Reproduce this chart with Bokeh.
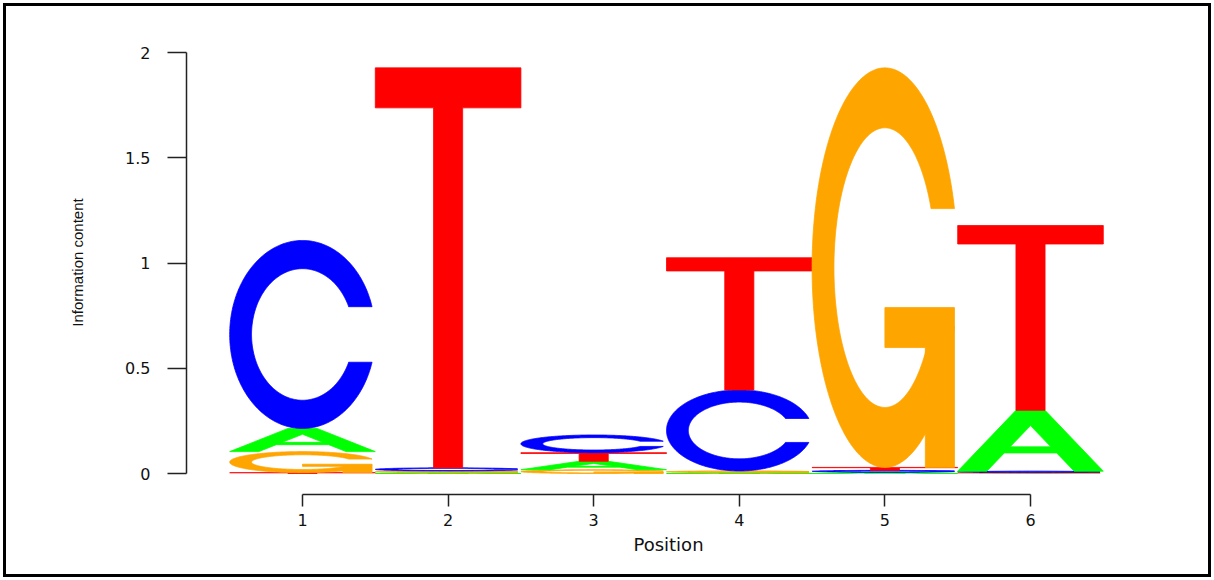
import numpy as np
from bokeh.plotting import figure
from bokeh.models import Range1d, FixedTicker, ColumnDataSource
from bokeh.embed import file_html
from bokeh.resources import INLINE

# ---- data (information content per letter, per position) ----
positions = [1, 2, 3, 4, 5, 6]
letters = ["A", "C", "G", "T"]
height_A = [0.110, 0.004, 0.040, 0.004, 0.006, 0.289]
height_C = [0.893, 0.015, 0.084, 0.385, 0.009, 0.007]
height_G = [0.100, 0.008, 0.018, 0.008, 1.898, 0.004]
height_T = [0.004, 1.900, 0.041, 0.628, 0.014, 0.878]
letter_colors = {"A": "#00FF00", "C": "#0000FF", "G": "#FFA500", "T": "#FF0000"}
y_ticks = [0, 0.5, 1, 1.5, 2]
y_tick_labels = ["0", "0.5", "1", "1.5", "2"]
x_ticks = positions
x_tick_labels = [str(v) for v in positions]

heights = {"A": height_A, "C": height_C, "G": height_G, "T": height_T}


# ---- letter outlines in a unit box (seqLogo style) ----
def _c_ring():
    a1 = np.linspace(0.3 + np.pi / 2, np.pi, 100)
    a2 = np.linspace(np.pi, 1.5 * np.pi, 100)
    xl1, yl1 = 0.5 + 0.5 * np.sin(a1), 0.5 + 0.5 * np.cos(a1)
    xl2, yl2 = 0.5 + 0.5 * np.sin(a2), 0.5 + 0.5 * np.cos(a2)
    xl, yl = np.concatenate([xl1, xl2]), np.concatenate([yl1, yl2])
    xo = np.concatenate([xl, xl[::-1]])
    yo = np.concatenate([yl, 1 - yl[::-1]])
    xi1, yi1 = 0.5 + 0.35 * np.sin(a1), 0.5 + 0.35 * np.cos(a1)
    m = yi1 <= yl1.max()
    xi1, yi1 = xi1[m], yi1[m].copy()
    yi1[0] = yl1.max()
    xi2, yi2 = 0.5 + 0.35 * np.sin(a2), 0.5 + 0.35 * np.cos(a2)
    xi, yi = np.concatenate([xi1, xi2]), np.concatenate([yi1, yi2])
    x1 = np.concatenate([xi, xi[::-1]])
    y1 = np.concatenate([yi, 1 - yi[::-1]])
    x = np.concatenate([xo, x1[::-1]])
    y = np.concatenate([yo, y1[::-1]])
    return x, y, xl1.max()


def shape(letter):
    """List of separate polygons; each polygon = list of rings (outer, holes...)."""
    if letter == "T":
        x = np.array([0, 10, 10, 6, 6, 4, 4, 0]) / 10
        y = np.array([10, 10, 9, 9, 0, 0, 9, 9]) / 10
        return [[(x, y)]]
    if letter == "A":
        xo = np.array([0, 4, 6, 10, 8, 6.8, 3.2, 2]) / 10
        yo = np.array([0, 10, 10, 0, 0, 3, 3, 0]) / 10
        xh = np.array([3.6, 5, 6.4]) / 10
        yh = np.array([4, 7.5, 4]) / 10
        return [[(xo, yo), (xh, yh)]]
    x, y, r1 = _c_ring()
    if letter == "C":
        return [[(x, y)]]
    h1 = 0.4
    xb = np.array([r1, 0.5, 0.5, r1 - 0.2, r1 - 0.2, r1, r1])
    yb = np.array([h1, h1, h1 - 0.1, h1 - 0.1, 0, 0, h1])
    return [[(x, y)], [(xb, yb)]]


xs, ys, cols = [], [], []
for i, pos in enumerate(positions):
    stack = sorted(letters, key=lambda L: heights[L][i])
    base = 0.0
    for L in stack:
        h = heights[L][i]
        for poly in shape(L):
            xs.append([[list(pos - 0.5 + rx) for rx, ry in poly]])
            ys.append([[list(base + h * ry) for rx, ry in poly]])
            cols.append(letter_colors[L])
        base += h

src = ColumnDataSource(dict(xs=xs, ys=ys, color=cols))

# canvas placed 6px from the page edge, with a 3px outline drawn just outside it
OFF = 6
W, H = 1202, 568
ml, mr, mt, mb = 186 - OFF, W - (1150 - OFF), 30 - OFF, H - (494 - OFF)
px_per_x = 145.6
px_per_y = 210.5
x0 = 1 - (302 - 186) / px_per_x
y0 = -(494 - 473) / px_per_y
fw, fh = W - ml - mr, H - mt - mb

p = figure(width=W, height=H, output_backend="svg", toolbar_location=None,
           x_range=Range1d(x0, x0 + fw / px_per_x),
           y_range=Range1d(y0, y0 + fh / px_per_y),
           min_border_left=ml, min_border_right=mr,
           min_border_top=mt, min_border_bottom=mb,
           background_fill_color="white", border_fill_color="white")
p.outline_line_color = None
p.grid.visible = False
p.styles = {"margin": f"{OFF}px", "outline": "3px solid black",
            "outline-offset": "0px"}

p.multi_polygons(xs="xs", ys="ys", source=src, fill_color="color",
                 line_color="color", line_width=0.8)

font = "DejaVu Sans"
for ax in (p.xaxis[0], p.yaxis[0]):
    ax.axis_line_color = "#222222"
    ax.axis_line_width = 1.5
    ax.major_tick_line_color = "#222222"
    ax.major_tick_line_width = 1.5
    ax.major_tick_in = 0
    ax.minor_tick_line_color = None
    ax.major_label_text_font = font
    ax.major_label_text_color = "#111111"
    ax.axis_label_text_font_style = "normal"
    ax.axis_label_text_color = "#111111"

ya = p.yaxis[0]
ya.bounds = (0, 2)
ya.ticker = FixedTicker(ticks=y_ticks)
ya.major_label_overrides = {t: l for t, l in zip(y_ticks, y_tick_labels)}
ya.major_tick_out = 19
ya.major_label_standoff = 17
ya.major_label_text_font_size = "16px"
ya.axis_label = "Information content"
ya.axis_label_text_font = "Liberation Sans"
ya.axis_label_text_font_size = "15px"
ya.axis_label_standoff = 36

xa = p.xaxis[0]
xa.bounds = (1, 6)
xa.ticker = FixedTicker(ticks=x_ticks)
xa.major_label_overrides = {t: l for t, l in zip(x_ticks, x_tick_labels)}
xa.major_tick_out = 12
xa.major_label_standoff = 7
xa.major_label_text_font_size = "16px"
xa.axis_label = "Position"
xa.axis_label_text_font = font
xa.axis_label_text_font_size = "18px"
xa.axis_label_standoff = 5

open("out.html", "w").write(file_html(p, INLINE))
